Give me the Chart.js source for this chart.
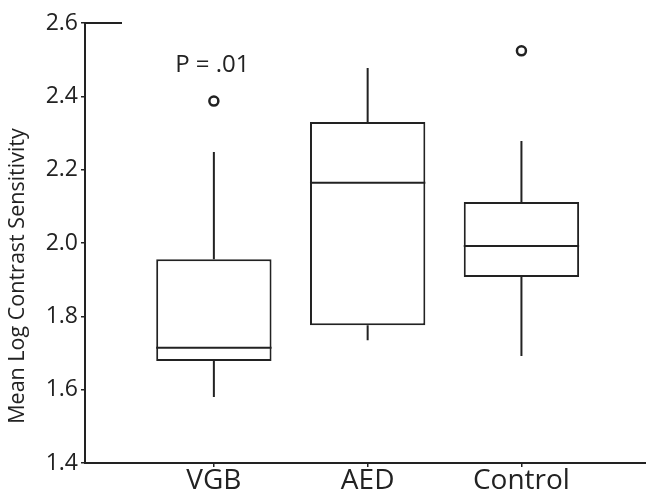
<!DOCTYPE html>
<html><head><meta charset="utf-8">
<script src="https://cdn.jsdelivr.net/npm/chart.js@4"></script>
<style>html,body{margin:0;padding:0;background:#fff;overflow:hidden}#wrap{width:646px;height:496px;position:relative}</style>
</head><body><div id="wrap"><canvas id="c"></canvas></div>
<script>
const categories = ['VGB', 'AED', 'Control'];
const positions = [1, 2, 3];
const whiskerLow = [1.58, 1.735, 1.692];
const q1 = [1.678, 1.776, 1.907];
const median = [1.714, 2.164, 1.992];
const q3 = [1.956, 2.330, 2.112];
const whiskerHigh = [2.248, 2.477, 2.278];
const outlierX = [1, 3];
const outlierY = [2.387, 2.524];
const yTicks = [1.4, 1.6, 1.8, 2.0, 2.2, 2.4, 2.6];
const annotationText = 'P = .01';
const annotationPos = { x: 0.99, y: 2.485 };
const yTitle = 'Mean Log Contrast Sensitivity';

const INK = '#222';
const FONT = "'Open Sans', sans-serif";

const boxPlugin = {
  id: 'boxExtras',
  afterDatasetsDraw(chart) {
    const { ctx, scales: { x, y } } = chart;
    const meta = chart.getDatasetMeta(0);
    ctx.save();
    ctx.strokeStyle = INK;
    ctx.lineWidth = 2;
    positions.forEach((p, i) => {
      const cx = x.getPixelForValue(p);
      const half = meta.data[i].width / 2;
      ctx.beginPath();
      ctx.moveTo(cx, y.getPixelForValue(q3[i]));
      ctx.lineTo(cx, y.getPixelForValue(whiskerHigh[i]));
      ctx.moveTo(cx, y.getPixelForValue(q1[i]));
      ctx.lineTo(cx, y.getPixelForValue(whiskerLow[i]));
      ctx.moveTo(cx - half, y.getPixelForValue(median[i]));
      ctx.lineTo(cx + half, y.getPixelForValue(median[i]));
      ctx.stroke();
    });
    const yt = y.getPixelForValue(yTicks[yTicks.length - 1]);
    ctx.beginPath();
    ctx.moveTo(chart.chartArea.left - 1, yt);
    ctx.lineTo(chart.chartArea.left + 37, yt);
    ctx.stroke();
    ctx.fillStyle = INK;
    ctx.font = "24px " + FONT;
    ctx.textAlign = 'center';
    ctx.textBaseline = 'middle';
    ctx.fillText(annotationText, x.getPixelForValue(annotationPos.x), y.getPixelForValue(annotationPos.y));
    ctx.font = "21.5px " + FONT;
    ctx.translate(18, 276);
    ctx.rotate(-Math.PI / 2);
    ctx.fillText(yTitle, 0, 0);
    ctx.restore();
  }
};

new Chart(document.getElementById('c'), {
  type: 'bar',
  data: {
    datasets: [
      {
        type: 'bar',
        data: positions.map((p, i) => ({ x: p, y: [q1[i], q3[i]] })),
        backgroundColor: '#fff',
        borderColor: INK,
        borderWidth: 2,
        borderSkipped: false,
        barPercentage: 0.75,
        categoryPercentage: 1.0
      },
      {
        type: 'scatter',
        data: outlierX.map((v, i) => ({ x: v, y: outlierY[i] })),
        pointRadius: 4.5,
        pointBackgroundColor: '#fff',
        pointBorderColor: INK,
        pointBorderWidth: 2.5
      }
    ]
  },
  options: {
    responsive: true,
    maintainAspectRatio: false,
    animation: false,
    layout: { autoPadding: false, padding: { top: 23, right: 0, left: 0, bottom: 0 } },
    plugins: { legend: { display: false }, tooltip: { enabled: false } },
    scales: {
      x: {
        type: 'linear',
        min: 0.162,
        max: 3.81,
        offset: false,
        afterBuildTicks: s => { s.ticks = positions.map(v => ({ value: v })); },
        afterFit: s => { s.height = 33; s.paddingLeft = 0; s.paddingRight = 0; },
        ticks: {
          callback: (v) => categories[positions.indexOf(v)] || '',
          color: INK,
          font: { size: 28, family: FONT },
          padding: -3,
          maxRotation: 0,
          autoSkip: false
        },
        grid: { offset: false, drawOnChartArea: false, drawTicks: true, tickLength: 4, color: INK, lineWidth: 1.5 },
        border: { display: true, color: INK, width: 2 }
      },
      y: {
        min: 1.4,
        max: 2.6,
        afterBuildTicks: s => { s.ticks = yTicks.map(v => ({ value: v })); },
        afterFit: s => { s.width = 85; },
        ticks: {
          callback: v => v.toFixed(1),
          color: INK,
          font: { size: 23, family: FONT },
          padding: 3
        },
        grid: { drawOnChartArea: false, drawTicks: true, tickLength: 4, color: INK, lineWidth: 1.5 },
        border: { display: true, color: INK, width: 2 }
      }
    }
  },
  plugins: [boxPlugin]
});
</script>
</body></html>
